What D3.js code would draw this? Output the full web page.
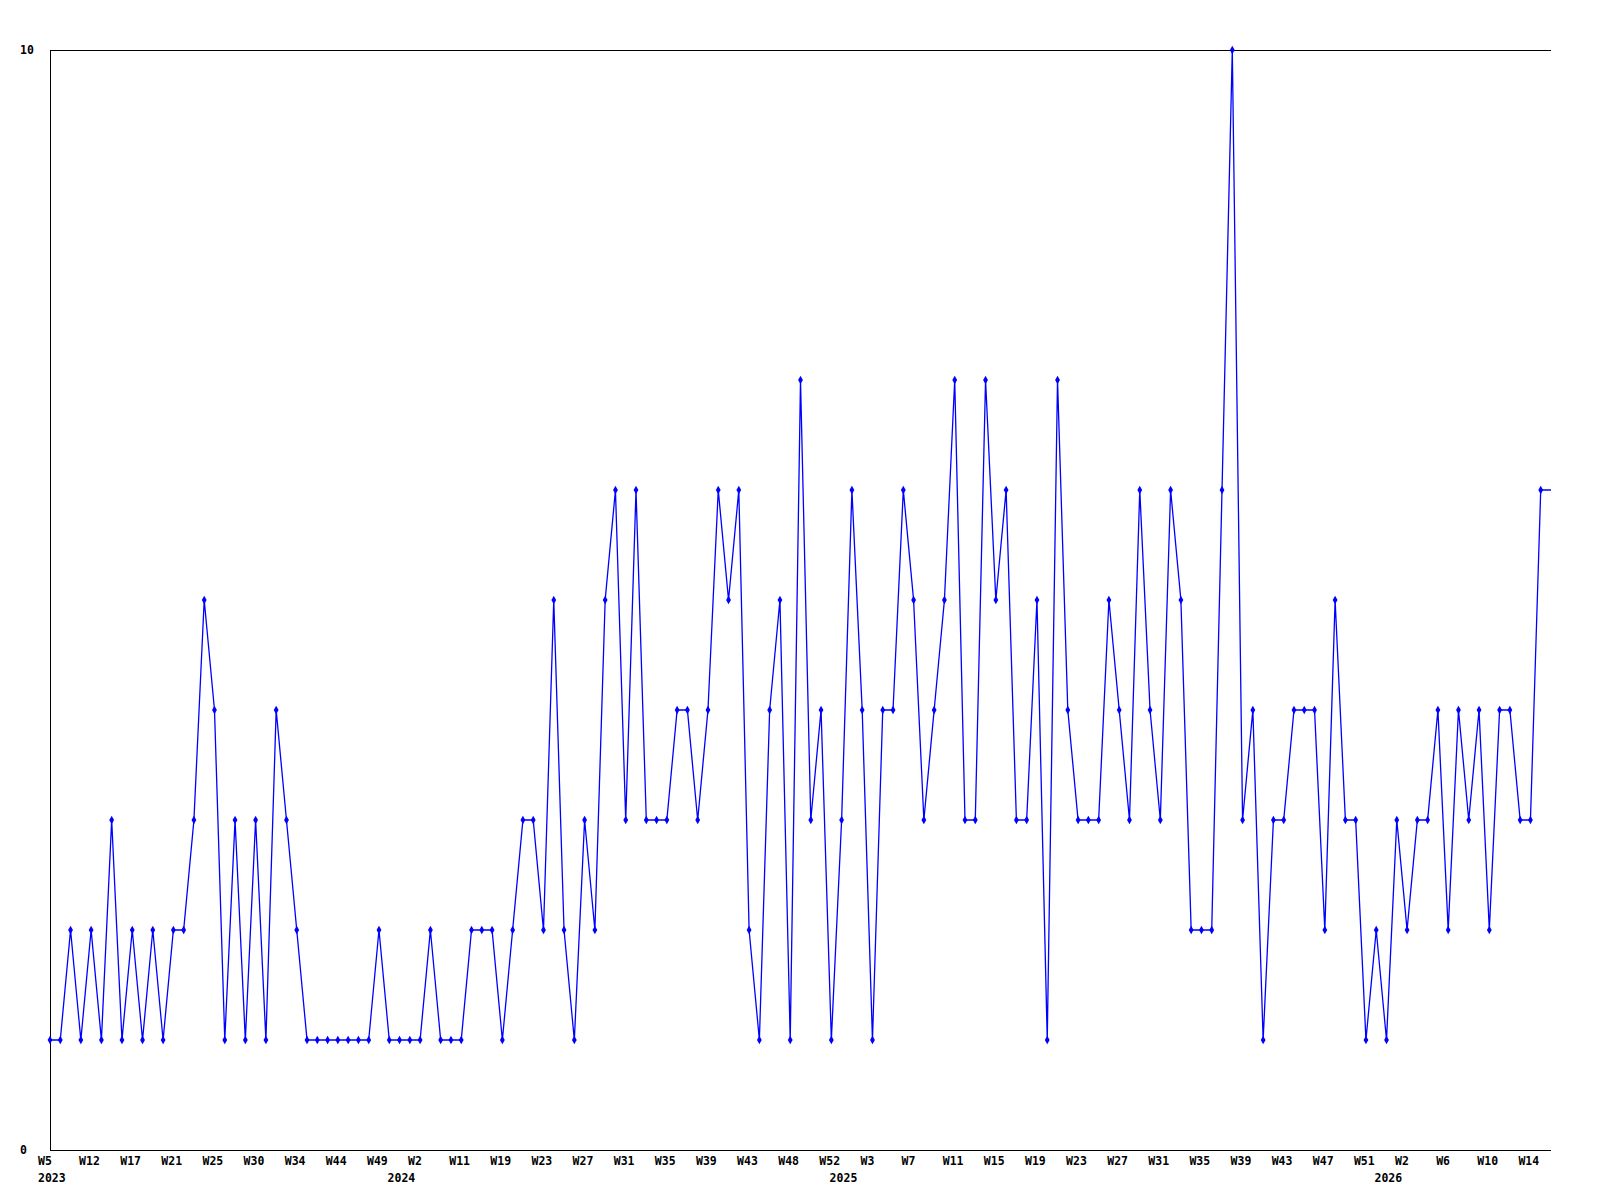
<!DOCTYPE html>
<html>
<head>
<meta charset="utf-8">
<script src="https://cdn.jsdelivr.net/npm/d3@7"></script>
<style>
  html, body { margin: 0; padding: 0; background: #ffffff; }
  svg { display: block; }
  text { font-family: "DejaVu Sans Mono", "Liberation Mono", monospace; font-weight: bold; font-size: 11.5px; fill: #000; }
</style>
</head>
<body>
<svg id="chart" width="1600" height="1200"></svg>
<script>
// Weekly values, one per plotted week (in order)
const values = [
  1,1,2,1,2,1,3,1,2,1,2,1,2,2,3,5,4,1,3,1,3,1,4,3,2,1,
  1,1,1,1,1,1,2,1,1,1,1,2,1,1,1,2,2,2,1,2,3,3,2,5,
  2,1,3,2,5,6,3,6,3,3,3,4,4,3,4,6,5,6,2,1,4,5,1,7,
  3,4,1,3,6,4,1,4,4,6,5,3,4,5,7,3,3,7,5,6,3,3,5,1,
  7,4,3,3,3,5,4,3,6,4,3,6,5,2,2,2,6,10,3,4,1,3,3,4,
  4,4,2,5,3,3,1,2,1,3,2,3,3,4,2,4,3,4,2,4,4,3,3,6
];
// Week tick labels (every 4th plotted week)
const tickLabels = [
  "W5","W12","W17","W21","W25","W30","W34","W44","W49","W2",
  "W11","W19","W23","W27","W31","W35","W39","W43","W48","W52",
  "W3","W7","W11","W15","W19","W23","W27","W31","W35","W39",
  "W43","W47","W51","W2","W6","W10","W14"
];
const tickEvery = 4;
// Year labels at the first plotted week of each year (week index)
const yearIndex = [0, 34, 77, 130];
const yearNames = ["2023", "2024", "2025", "2026"];
const yTickValues = [0, 10];

(function () {
  const svg = d3.select("#chart");
  const mLeft = 50, mRight = 1551, mTop = 50, mBottom = 1150;

  const x = d3.scaleLinear().domain([0, values.length]).range([mLeft, mRight]);
  const y = d3.scaleLinear().domain([0, 10]).range([mBottom, mTop]);

  // frame: top, left, bottom
  const frame = svg.append("g").attr("stroke", "#000").attr("stroke-width", 1).attr("shape-rendering", "crispEdges");
  frame.append("line").attr("x1", mLeft).attr("x2", mRight).attr("y1", y(10) + 0.5).attr("y2", y(10) + 0.5);
  frame.append("line").attr("x1", mLeft).attr("x2", mRight).attr("y1", y(0) + 0.5).attr("y2", y(0) + 0.5);
  frame.append("line").attr("x1", mLeft + 0.5).attr("x2", mLeft + 0.5).attr("y1", y(10)).attr("y2", y(0));

  // y labels
  svg.append("g").selectAll("text").data(yTickValues).join("text")
    .attr("x", 20).attr("y", d => y(d) + 4).text(d => d);

  // x week labels
  svg.append("g").selectAll("text").data(tickLabels).join("text")
    .attr("x", (d, i) => x(i * tickEvery) - 12)
    .attr("y", mBottom + 15)
    .text(d => d);

  // year labels
  svg.append("g").selectAll("text").data(yearNames).join("text")
    .attr("x", (d, i) => x(yearIndex[i]) - 12)
    .attr("y", mBottom + 32)
    .text(d => d);

  // line (extends flat to the right edge after the last week)
  const pts = values.map((v, i) => [x(i), y(v)]);
  pts.push([x(values.length), y(values[values.length - 1])]);
  svg.append("path")
    .attr("d", d3.line()(pts))
    .attr("fill", "none")
    .attr("stroke", "#0000ff")
    .attr("stroke-width", 1.3);

  // markers
  const diamond = d3.symbol().type(d3.symbolDiamond).size(20);
  svg.append("g").selectAll("path").data(values).join("path")
    .attr("transform", (d, i) => `translate(${x(i)},${y(d)})`)
    .attr("d", diamond)
    .attr("fill", "#0000ff");
})();
</script>
</body>
</html>
